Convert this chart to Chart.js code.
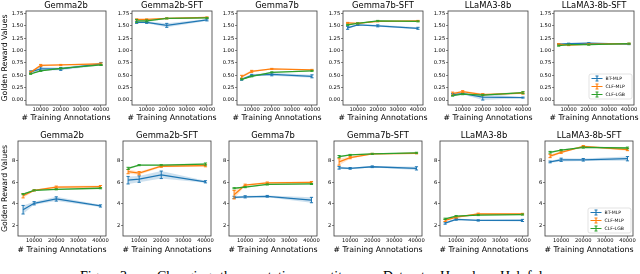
<!DOCTYPE html>
<html>
<head>
<meta charset="utf-8">
<script src="https://cdn.jsdelivr.net/npm/chart.js@4.4.0/dist/chart.umd.min.js"></script>
<style>
  html, body { margin: 0; padding: 0; background: #fff; }
  #fig { position: relative; width: 640px; height: 274px; overflow: hidden; }
  #fig canvas { position: absolute; }
  .cap { position: absolute; top: 269.5px; font-family: "Liberation Serif", serif; font-size: 14px; line-height: 14px; white-space: nowrap; color: #000; }
</style>
</head>
<body>
<div id="fig">
  <span class="cap" style="left:80px">Figure 3:</span>
  <span class="cap" style="left:157px">Changing</span>
  <span class="cap" style="left:220px">the annotation quantity.</span>
  <span class="cap" style="left:383px">Dataset:</span>
  <span class="cap" style="left:440px">Harmless, Helpful.</span>
</div>
<script>
// Datos
const xValues = [5000, 10000, 20000, 40000];
const xTicks = [10000, 20000, 30000, 40000];
const xTickLabels = ['10000', '20000', '30000', '40000'];
const panelTitles = ['Gemma2b', 'Gemma2b-SFT', 'Gemma7b', 'Gemma7b-SFT', 'LLaMA3-8b', 'LLaMA3-8b-SFT'];
const seriesNames = ['BT-MLP', 'CLF-MLP', 'CLF-LGB'];

const topYTicks = [0, 0.25, 0.5, 0.75, 1, 1.25, 1.5, 1.75];
const topYTickLabels = ['0.00', '0.25', '0.50', '0.75', '1.00', '1.25', '1.50', '1.75'];
const bottomYTicks = [2, 4, 6, 8];
const bottomYTickLabels = ['2', '4', '6', '8'];

// fila superior: un arreglo por panel
const topBtMlp = [
  [0.57, 0.63, 0.63, 0.73], [1.57, 1.57, 1.51, 1.62], [0.42, 0.50, 0.52, 0.48],
  [1.46, 1.52, 1.50, 1.45], [0.11, 0.13, 0.06, 0.05], [1.13, 1.14, 1.15, 1.13]
];
const topBtMlpErr = [
  [0.02, 0.04, 0.03, 0.03], [0.02, 0.02, 0.04, 0.02], [0.02, 0.02, 0.03, 0.03],
  [0.03, 0.01, 0.02, 0.02], [0.02, 0.02, 0.06, 0.01], [0.01, 0.01, 0.01, 0.01]
];
const topClfMlp = [
  [0.56, 0.70, 0.71, 0.73], [1.63, 1.63, 1.65, 1.67], [0.47, 0.58, 0.63, 0.61],
  [1.56, 1.55, 1.59, 1.60], [0.13, 0.17, 0.11, 0.14], [1.13, 1.11, 1.13, 1.14]
];
const topClfMlpErr = [
  [0.02, 0.02, 0.01, 0.02], [0.01, 0.01, 0.01, 0.01], [0.03, 0.02, 0.01, 0.01],
  [0.01, 0.01, 0.01, 0.01], [0.03, 0.02, 0.02, 0.02], [0.01, 0.01, 0.01, 0.01]
];
const topClfLgb = [
  [0.53, 0.59, 0.64, 0.71], [1.60, 1.60, 1.65, 1.66], [0.42, 0.48, 0.56, 0.59],
  [1.52, 1.55, 1.60, 1.59], [0.09, 0.12, 0.10, 0.15], [1.10, 1.12, 1.12, 1.14]
];
const topClfLgbErr = [
  [0.01, 0.01, 0.01, 0.01], [0.03, 0.02, 0.01, 0.01], [0.01, 0.01, 0.01, 0.01],
  [0.01, 0.01, 0.01, 0.01], [0.01, 0.01, 0.01, 0.02], [0.01, 0.01, 0.01, 0.01]
];

// fila inferior
const bottomBtMlp = [
  [3.45, 4.05, 4.45, 3.80], [6.20, 6.30, 6.70, 6.05], [4.60, 4.65, 4.70, 4.35],
  [7.35, 7.30, 7.45, 7.30], [2.20, 2.55, 2.45, 2.45], [7.90, 8.10, 8.10, 8.20]
];
const bottomBtMlpErr = [
  [0.40, 0.15, 0.20, 0.10], [0.35, 0.30, 0.35, 0.10], [0.10, 0.10, 0.08, 0.25],
  [0.12, 0.08, 0.08, 0.15], [0.10, 0.08, 0.06, 0.10], [0.08, 0.15, 0.12, 0.20]
];
const bottomClfMlp = [
  [4.75, 5.25, 5.55, 5.60], [7.00, 6.85, 7.50, 7.55], [4.85, 5.75, 5.95, 6.00],
  [7.90, 8.30, 8.65, 8.70], [2.45, 2.75, 3.05, 3.05], [8.45, 8.80, 9.35, 9.05]
];
const bottomClfMlpErr = [
  [0.20, 0.05, 0.10, 0.10], [0.20, 0.15, 0.10, 0.10], [0.40, 0.08, 0.08, 0.08],
  [0.30, 0.10, 0.05, 0.05], [0.10, 0.08, 0.08, 0.06], [0.15, 0.10, 0.08, 0.10]
];
const bottomClfLgb = [
  [4.90, 5.25, 5.35, 5.45], [7.30, 7.60, 7.60, 7.70], [5.45, 5.55, 5.80, 5.85],
  [8.40, 8.55, 8.65, 8.75], [2.60, 2.85, 2.95, 3.00], [8.80, 9.00, 9.25, 9.20]
];
const bottomClfLgbErr = [
  [0.05, 0.05, 0.05, 0.05], [0.10, 0.05, 0.05, 0.10], [0.05, 0.05, 0.05, 0.05],
  [0.10, 0.05, 0.05, 0.05], [0.06, 0.05, 0.05, 0.05], [0.08, 0.06, 0.06, 0.08]
];

// Estilo y disposición
const colors = ['#1f77b4', '#ff7f0e', '#2ca02c'];
const FONT = 'DejaVu Sans';
const TITLE_H = 11;
const PAD_RIGHT = 7;

Chart.defaults.font.family = FONT;
Chart.defaults.color = '#000';

const rows = [
  {
    top: 0, boxLefts: [26, 132, 237, 343, 448, 554], boxW: 80, boxH: 94, xAxisH: 18,
    yMin: -0.1, yMax: 1.8, yTicks: topYTicks, yTickLabels: topYTickLabels,
    values: [topBtMlp, topClfMlp, topClfLgb], errors: [topBtMlpErr, topClfMlpErr, topClfLgbErr],
    legend: { w: 43, h: 25, first: 4.5, gap: 8, dx: 2, dy: 6 }
  },
  {
    top: 130, boxLefts: [18, 123, 229, 334, 440, 545], boxW: 88, boxH: 95, xAxisH: 19,
    yMin: 1.0, yMax: 9.85, yTicks: bottomYTicks, yTickLabels: bottomYTickLabels,
    values: [bottomBtMlp, bottomClfMlp, bottomClfLgb], errors: [bottomBtMlpErr, bottomClfMlpErr, bottomClfLgbErr],
    legend: { w: 43, h: 25, first: 4.5, gap: 8, dx: 2, dy: 3 }
  }
];

// bandas + barras de error
const errorBars = {
  id: 'errorBars',
  beforeDatasetsDraw(chart) {
    const { ctx, scales: { x, y } } = chart;
    chart.data.datasets.forEach(ds => {
      ctx.save();
      ctx.fillStyle = ds.borderColor;
      ctx.globalAlpha = 0.22;
      ctx.beginPath();
      ds.data.forEach((p, k) => {
        const px = x.getPixelForValue(p.x), py = y.getPixelForValue(p.y + ds.err[k]);
        k ? ctx.lineTo(px, py) : ctx.moveTo(px, py);
      });
      for (let k = ds.data.length - 1; k >= 0; k--) {
        const p = ds.data[k];
        ctx.lineTo(x.getPixelForValue(p.x), y.getPixelForValue(p.y - ds.err[k]));
      }
      ctx.closePath();
      ctx.fill();
      ctx.restore();
    });
  },
  afterDatasetsDraw(chart) {
    const { ctx, scales: { x, y } } = chart;
    chart.data.datasets.forEach(ds => {
      ctx.save();
      ctx.strokeStyle = ds.borderColor;
      ctx.lineWidth = 1;
      ds.data.forEach((p, k) => {
        const px = x.getPixelForValue(p.x);
        const hi = y.getPixelForValue(p.y + ds.err[k]);
        const lo = y.getPixelForValue(p.y - ds.err[k]);
        ctx.beginPath();
        ctx.moveTo(px, hi); ctx.lineTo(px, lo);
        ctx.moveTo(px - 1.6, hi); ctx.lineTo(px + 1.6, hi);
        ctx.moveTo(px - 1.6, lo); ctx.lineTo(px + 1.6, lo);
        ctx.stroke();
      });
      ctx.restore();
    });
  }
};

// marco, título y etiqueta x
function panelText(title) {
  return {
    id: 'panelText',
    afterDatasetsDraw(chart) {
      const { ctx, chartArea: a } = chart;
      ctx.save();
      ctx.strokeStyle = '#3a3a3a';
      ctx.lineWidth = 0.8;
      ctx.strokeRect(a.left, a.top, a.right - a.left, a.bottom - a.top);
      ctx.fillStyle = '#000';
      ctx.textAlign = 'center';
      ctx.textBaseline = 'middle';
      const cx = (a.left + a.right) / 2;
      ctx.font = '8.4px "' + FONT + '"';
      ctx.fillText(title, cx, a.top - 5.5);
      ctx.font = '7.8px "' + FONT + '"';
      ctx.fillText('# Training Annotations', cx, chart.height - 4.7);
      ctx.restore();
    }
  };
}

function legendPlugin(lg) {
  return {
    id: 'errLegend',
    afterDraw(chart) {
      const { ctx, chartArea: a } = chart;
      const right = a.right - lg.dx, bottom = a.bottom - lg.dy;
      const left = right - lg.w, top = bottom - lg.h;
      ctx.save();
      ctx.beginPath();
      ctx.roundRect(left, top, lg.w, lg.h, 2);
      ctx.fillStyle = 'rgba(255,255,255,0.85)';
      ctx.fill();
      ctx.strokeStyle = '#d0d0d0';
      ctx.lineWidth = 0.6;
      ctx.stroke();
      seriesNames.forEach((name, s) => {
        const cy = top + lg.first + s * lg.gap;
        const hx = left + 2.5;
        ctx.strokeStyle = colors[s];
        ctx.lineWidth = 1.1;
        ctx.beginPath();
        ctx.moveTo(hx, cy); ctx.lineTo(hx + 11, cy);
        ctx.moveTo(hx + 5.5, cy - 2.5); ctx.lineTo(hx + 5.5, cy + 2.5);
        ctx.moveTo(hx + 4, cy - 2.5); ctx.lineTo(hx + 7, cy - 2.5);
        ctx.moveTo(hx + 4, cy + 2.5); ctx.lineTo(hx + 7, cy + 2.5);
        ctx.stroke();
        ctx.fillStyle = '#000';
        ctx.font = '4.6px "' + FONT + '"';
        ctx.textAlign = 'left';
        ctx.textBaseline = 'middle';
        ctx.fillText(name, hx + 14, cy);
      });
      ctx.restore();
    }
  };
}

function makePanel(row, i) {
  const yAxisW = i === 0 ? row.boxLefts[0] : 20;
  const canvas = document.createElement('canvas');
  const w = yAxisW + row.boxW + PAD_RIGHT;
  const h = TITLE_H + row.boxH + row.xAxisH;
  canvas.width = w;
  canvas.height = h;
  canvas.style.width = w + 'px';
  canvas.style.height = h + 'px';
  canvas.style.left = (row.boxLefts[i] - yAxisW) + 'px';
  canvas.style.top = row.top + 'px';
  document.getElementById('fig').appendChild(canvas);

  const plugins = [errorBars, panelText(panelTitles[i])];
  if (i === panelTitles.length - 1) plugins.push(legendPlugin(row.legend));

  new Chart(canvas, {
    type: 'line',
    data: {
      datasets: seriesNames.map((name, s) => ({
        label: name,
        data: xValues.map((x, k) => ({ x: x, y: row.values[s][i][k] })),
        err: row.errors[s][i],
        borderColor: colors[s],
        backgroundColor: colors[s],
        borderWidth: 1.3,
        pointRadius: 0,
        tension: 0,
        order: 3 - s
      }))
    },
    options: {
      responsive: false,
      animation: false,
      devicePixelRatio: 1,
      events: [],
      layout: { padding: { top: TITLE_H, right: PAD_RIGHT, bottom: 0, left: 0 } },
      plugins: { legend: { display: false }, tooltip: { enabled: false }, title: { display: false } },
      scales: {
        x: {
          type: 'linear',
          min: 2700,
          max: 42500,
          afterBuildTicks: scale => { scale.ticks = xTicks.map(v => ({ value: v })); },
          afterFit: scale => { scale.height = row.xAxisH; scale.paddingLeft = 0; scale.paddingRight = 0; },
          ticks: {
            autoSkip: false, maxRotation: 0, minRotation: 0, padding: -0.5,
            font: { size: 5.2 }, color: '#000',
            callback: (v, idx) => xTickLabels[idx]
          },
          grid: { drawOnChartArea: false, drawTicks: true, tickLength: 2, color: '#333', lineWidth: 0.6 },
          border: { display: false }
        },
        y: {
          type: 'linear',
          min: row.yMin,
          max: row.yMax,
          afterBuildTicks: scale => { scale.ticks = row.yTicks.map(v => ({ value: v })); },
          afterFit: scale => { scale.width = yAxisW; scale.paddingTop = 0; scale.paddingBottom = 0; },
          ticks: {
            autoSkip: false, padding: 0.8,
            font: { size: 5.2 }, color: '#000',
            callback: (v, idx) => row.yTickLabels[idx]
          },
          grid: { drawOnChartArea: false, drawTicks: true, tickLength: 2, color: '#333', lineWidth: 0.6 },
          border: { display: false },
          title: {
            display: i === 0,
            text: 'Golden Reward Values',
            font: { size: 7.8 },
            padding: 0,
            color: '#000'
          }
        }
      }
    },
    plugins: plugins
  });
}

rows.forEach(row => {
  panelTitles.forEach((t, i) => makePanel(row, i));
});
</script>
</body>
</html>
